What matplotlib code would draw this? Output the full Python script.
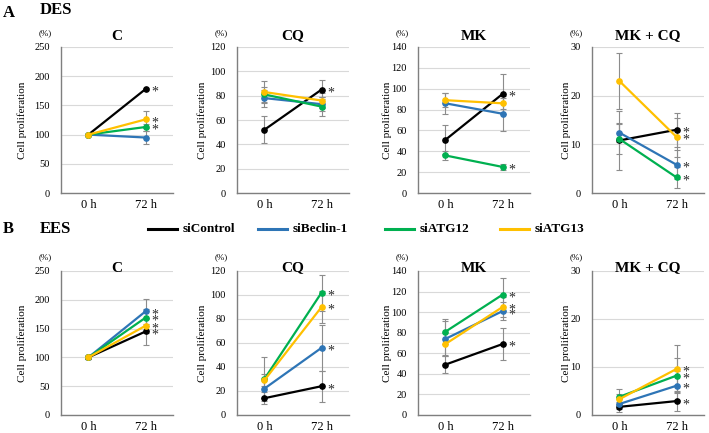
import matplotlib
matplotlib.use('Agg')
import matplotlib.pyplot as plt
from matplotlib.lines import Line2D

plt.rcParams['font.family'] = ['Liberation Serif', 'DejaVu Serif']

# ---- data ----
times  = ['0 h', '72 h']
groups = ['siControl', 'siBeclin-1', 'siATG12', 'siATG13']
colors = ['#000000', '#2e75b6', '#00b050', '#ffc000']
titles = ['C', 'CQ', 'MK', 'MK + CQ']
ymaxes = [250, 120, 140, 30]
ysteps = [50, 20, 20, 10]

# DES row: one [0 h, 72 h] pair per group (siControl, siBeclin-1, siATG12, siATG13)
des_c        = [[100, 178], [100, 95], [100, 113], [100, 126]]
des_c_err    = [[1, 2], [1, 11], [1, 6], [1, 14]]
des_c_star   = [1, 0, 1, 1]
des_cq       = [[52, 85], [78, 73], [81, 71], [83, 76]]
des_cq_err   = [[11, 8], [7, 6], [6, 8], [9, 6]]
des_cq_star  = [1, 0, 0, 0]
des_mk       = [[51, 95], [86, 76], [36, 25], [89, 86]]
des_mk_err   = [[14, 19], [10, 17], [4, 3], [7, 5]]
des_mk_star  = [1, 0, 1, 0]
des_mkcq      = [[10.8, 13.0], [12.4, 5.8], [11.1, 3.2], [23.0, 11.5]]
des_mkcq_err  = [[6, 3.5], [2, 3], [3, 2.2], [5.8, 4]]
des_mkcq_star = [1, 1, 1, 1]

# EES row
ees_c        = [[100, 145], [100, 180], [100, 169], [100, 155]]
ees_c_err    = [[2, 24], [2, 22], [2, 15], [2, 12]]
ees_c_star   = [1, 1, 1, 1]
ees_cq       = [[14, 24], [22, 56], [30, 102], [29, 90]]
ees_cq_err   = [[5, 13], [8, 19], [18, 15], [5, 13]]
ees_cq_star  = [1, 1, 1, 1]
ees_mk       = [[49, 69], [74, 101], [81, 117], [69, 105]]
ees_mk_err   = [[8, 16], [17, 9], [12, 16], [11, 10]]
ees_mk_star  = [1, 1, 1, 1]
ees_mkcq      = [[1.7, 2.9], [2.3, 6.1], [3.8, 8.2], [3.3, 9.6]]
ees_mkcq_err  = [[1, 2], [1, 3], [1.7, 3.7], [1, 4.9]]
ees_mkcq_star = [1, 1, 1, 1]

rows = [
    ([des_c, des_cq, des_mk, des_mkcq],
     [des_c_err, des_cq_err, des_mk_err, des_mkcq_err],
     [des_c_star, des_cq_star, des_mk_star, des_mkcq_star]),
    ([ees_c, ees_cq, ees_mk, ees_mkcq],
     [ees_c_err, ees_cq_err, ees_mk_err, ees_mkcq_err],
     [ees_c_star, ees_cq_star, ees_mk_star, ees_mkcq_star]),
]

# ---- layout (pixels of a 709x433 canvas) ----
W, H = 709, 433
fig = plt.figure(figsize=(W / 100, H / 100), dpi=100)
lefts = [61, 237, 418, 592]
axw = 112
row_top = [47, 271]
row_bot = [193, 415]
title_dy = [11, 3]
ylab_x = [-0.30, -0.27, -0.23, -0.19]

xs = [0, 1]
for r, (means, errs, stars) in enumerate(rows):
    for p in range(4):
        ax = fig.add_axes([lefts[p] / W, 1 - row_bot[r] / H, axw / W,
                           (row_bot[r] - row_top[r]) / H])
        for g in range(4):
            ax.errorbar(xs, means[p][g], yerr=errs[p][g], fmt='none',
                        ecolor='#8c8c8c', elinewidth=0.8, capsize=2.2,
                        capthick=0.8, zorder=2)
        for g in range(4):
            ax.plot(xs, means[p][g], '-o', color=colors[g], lw=1.6,
                    ms=3.8, zorder=3 + g)
            if stars[p][g]:
                ax.annotate('*', (xs[1], means[p][g][1]), xytext=(4, -2.5),
                            textcoords='offset points', ha='left', va='center',
                            fontsize=10, color='#2b2b2b')
        ax.set_xlim(-0.48, 1.48)
        ax.set_ylim(0, ymaxes[p])
        ax.set_yticks(range(0, ymaxes[p] + 1, ysteps[p]))
        ax.set_xticks(xs)
        ax.set_xticklabels(times, fontsize=9)
        ax.tick_params(axis='y', length=0, pad=8, labelsize=7.5)
        ax.tick_params(axis='x', length=0, pad=4)
        ax.grid(axis='y', color='#d9d9d9', lw=0.8)
        ax.set_axisbelow(True)
        for s in ['top', 'right']:
            ax.spines[s].set_visible(False)
        for s in ['left', 'bottom']:
            ax.spines[s].set_color('#7f7f7f')
            ax.spines[s].set_linewidth(1.0)
        ax.set_ylabel('Cell proliferation', fontsize=8)
        ax.yaxis.set_label_coords(ylab_x[p], 0.5)
        h = row_bot[r] - row_top[r]
        ax.text(0.5, 1 + title_dy[r] / h, titles[p], transform=ax.transAxes,
                ha='center', va='center', fontsize=11, fontweight='bold')
        ax.text(-16 / axw, 1 + 14 / h, '(%)', transform=ax.transAxes,
                ha='center', va='center', fontsize=6.5)

# panel letters and row names
fig.text(3 / W, 1 - 13 / H, 'A', fontsize=12, fontweight='bold', va='center')
fig.text(40 / W, 1 - 10 / H, 'DES', fontsize=12, fontweight='bold', va='center')
fig.text(3 / W, 1 - 229 / H, 'B', fontsize=12, fontweight='bold', va='center')
fig.text(40 / W, 1 - 229 / H, 'EES', fontsize=12, fontweight='bold', va='center')

# legend row
leg_x = [148, 258, 385, 500]
leg_y = 1 - 229 / H
for g in range(4):
    fig.add_artist(Line2D([leg_x[g] / W, (leg_x[g] + 29) / W], [leg_y, leg_y],
                          color=colors[g], lw=2.2, transform=fig.transFigure))
    fig.text((leg_x[g] + 35) / W, leg_y, groups[g], fontsize=9.5,
             fontweight='bold', va='center', ha='left')

fig.savefig('out.png', dpi=100)
